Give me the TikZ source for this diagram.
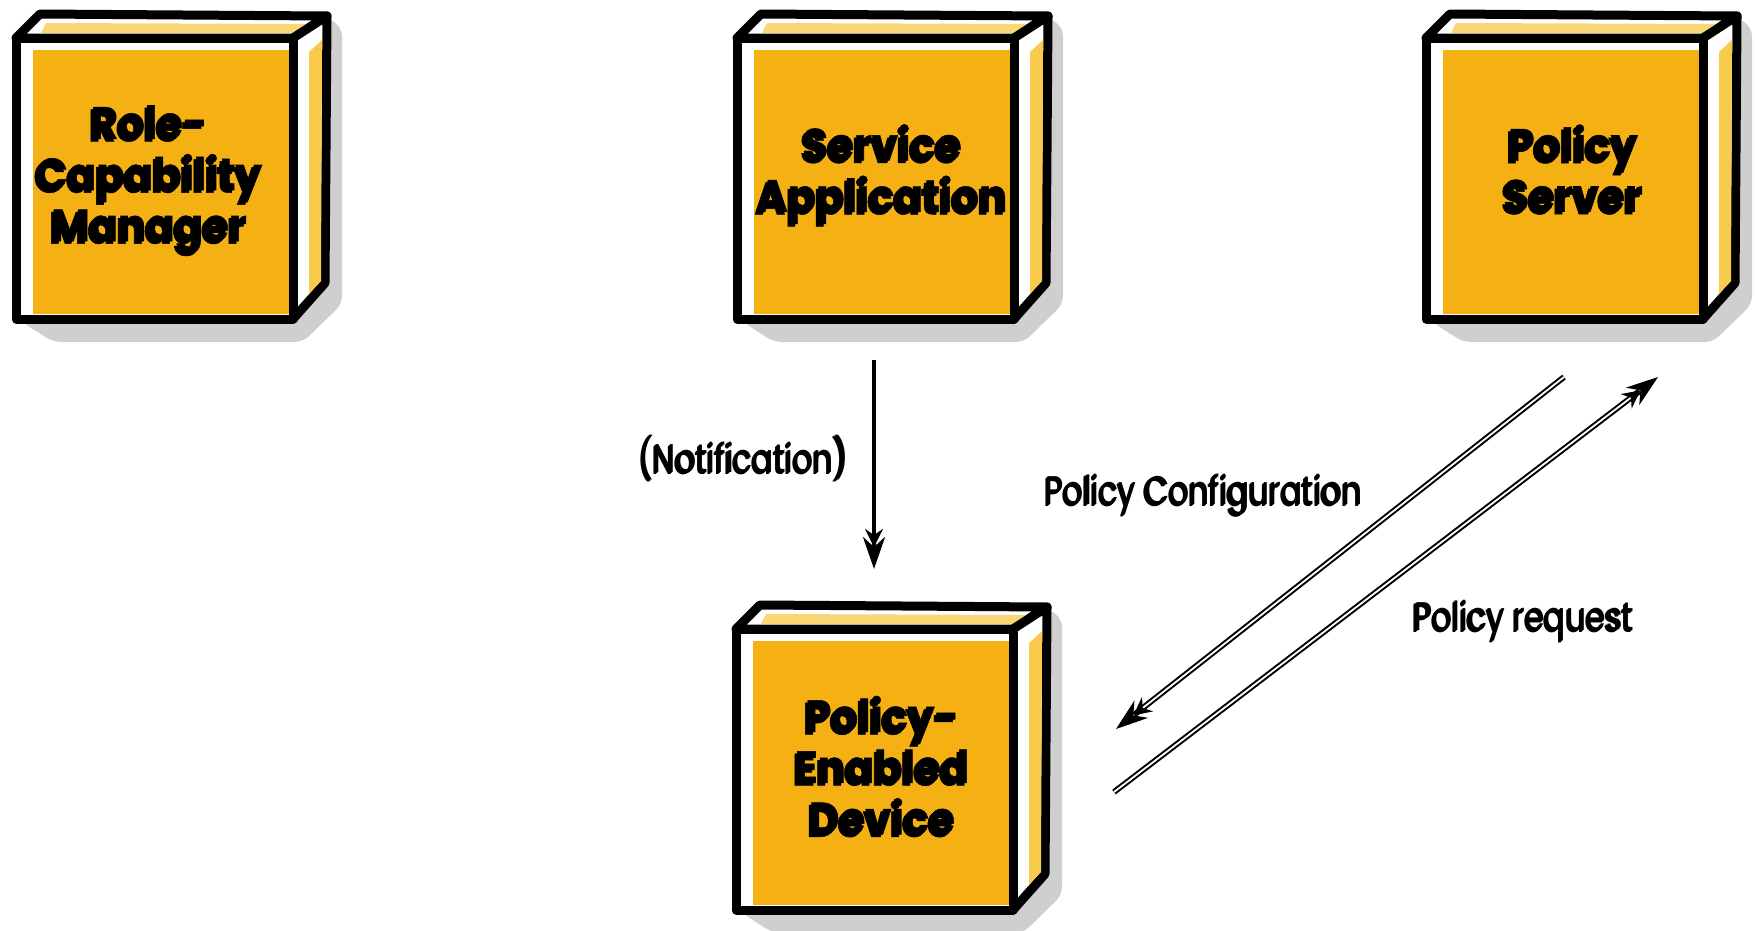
\documentclass[tikz,border=0pt]{standalone}
\usepackage{fontspec}
\setmainfont{Poppins}
\newfontfamily\titlefont{Poppins}[BoldFeatures={FakeBold=1.2, FakeStretch=0.93}]
\newfontfamily\labelfont[FakeStretch=0.79]{Poppins}
\usetikzlibrary{arrows.meta}

\definecolor{boxorange}{HTML}{F5B114}
\definecolor{sideorange}{HTML}{F8CB4C}
\definecolor{topband}{HTML}{FAD677}
\definecolor{shadowgray}{HTML}{CFCFCF}

% bold title with a dark drop copy offset to the lower left
\newcommand\boxtitle[1]{{\titlefont\fontsize{45}{51}\selectfont\bfseries\renewcommand\arraystretch{1}%
  \sbox0{\begin{tabular}{@{}c@{}}#1\end{tabular}}%
  \rlap{\kern-2.5pt\raisebox{-2.5pt}{\usebox0}}\usebox0}}

% light label drawn as a double-stroke outline
\newcommand\labeltext[1]{{\labelfont\fontsize{40}{48}\selectfont
  \sbox0{#1}%
  \rlap{\kern-2.2pt\raisebox{-2.2pt}{\usebox0}}%
  \rlap{\color{white}\kern-1.1pt\raisebox{-1.1pt}{\usebox0}}%
  \usebox0}}

\tikzset{
  barbed/.tip={Stealth[length=18pt,width=18pt,inset=6pt,sep=-10pt]
               Stealth[length=32pt,width=22pt,inset=10pt]},
  edge/.style={draw=black, line width=9pt, line join=round},
  title/.style={inner sep=0pt, align=center},
  lbl/.style={inner sep=0pt, anchor=base},
  vline/.style={line width=3.8pt, -barbed},
  dline/.style={double, double distance=1.8pt, line width=2pt, -barbed}
}

% a 3-D box whose front face has its top-left corner at (#1,#2)
\newcommand\cube[2]{%
  \begin{scope}[shift={(#1,#2)}]
    \fill[shadowgray, rounded corners=8pt] (0,250) -- (6,284) -- (37,304) -- (287,304)
        -- (326,266) -- (326,-10) -- (310,-22) -- (200,100) -- cycle;
    \filldraw[edge, fill=white] (0,0) -- (24,-24) -- (311,-22) -- (277,0) -- cycle;
    \fill[topband] (30,-15) -- (297,-14) -- (286,-5) -- (25,-5) -- cycle;
    \filldraw[edge, fill=white] (277,0) -- (311,-22) -- (309,245) -- (277,281) -- cycle;
    \fill[sideorange] (293,14) -- (306,2) -- (305,243) -- (293,256) -- cycle;
    \filldraw[edge, fill=white] (0,0) rectangle (277,281);
    \fill[boxorange] (17,12) rectangle (273,276);
  \end{scope}}

\begin{document}
\begin{tikzpicture}[x=1pt, y=-1pt]
  \useasboundingbox (0,0) rectangle (1755,930);

  \cube{16}{38}
  \cube{737}{38}
  \cube{1426}{38}
  \cube{736}{629}

  \node[title] (rcm) at (149,181) {\boxtitle{Role-\\Capability\\Manager}};
  \node[title] (app) at (882,177) {\boxtitle{Service\\Application}};
  \node[title] (srv) at (1573,177) {\boxtitle{Policy\\Server}};
  \node[title] (ped) at (882,774) {\boxtitle{Policy-\\Enabled\\Device}};

  \coordinate (nTop) at (874,360);
  \coordinate (nEnd) at (874,569);
  \coordinate (cfgFrom) at (1564,377);
  \coordinate (cfgTo) at (1116,729);
  \coordinate (reqFrom) at (1114,792);
  \coordinate (reqTo) at (1658,377);

  \draw[vline] (nTop) -- (nEnd);
  \draw[dline] (cfgFrom) -- (cfgTo);
  \draw[dline] (reqFrom) -- (reqTo);

  \node[lbl] (lNote) at (744,472) {\labeltext{(Notification)}};
  \node[lbl] (lCfg) at (1204,504) {\labeltext{Policy Configuration}};
  \node[lbl] (lReq) at (1524,630) {\labeltext{Policy request}};
\end{tikzpicture}
\end{document}
